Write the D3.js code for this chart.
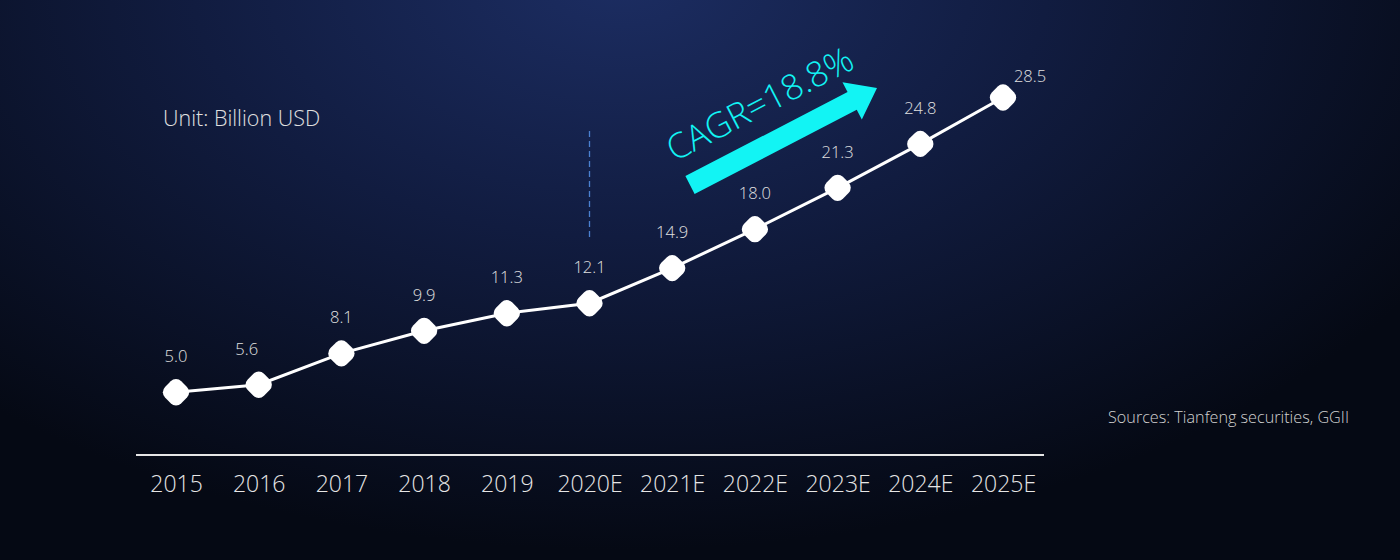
<!DOCTYPE html>
<html><head><meta charset="utf-8">
<script src="https://cdn.jsdelivr.net/npm/d3@7"></script>
<style>html,body{margin:0;padding:0;background:#050914;overflow:hidden}</style>
</head><body><svg id="c" width="1400" height="560"></svg>
<script>
const years = ["2015","2016","2017","2018","2019","2020E","2021E","2022E","2023E","2024E","2025E"];
const values = [5.0,5.6,8.1,9.9,11.3,12.1,14.9,18.0,21.3,24.8,28.5];
const unitLabel = "Unit: Billion USD";
const sourceLabel = "Sources: Tianfeng securities, GGII";
const cagrLabel = "CAGR=18.8%";
const forecastStart = "2020E";

const svg = d3.select("#c");
const W = 1400, H = 560;
const font = "'Open Sans', 'Noto Sans', sans-serif";

const defs = svg.append("defs");
const rg = defs.append("radialGradient").attr("id","bg").attr("gradientUnits","userSpaceOnUse")
  .attr("cx",620).attr("cy",-20).attr("r",760).attr("gradientTransform","translate(620,-20) scale(1.25,0.75) translate(-620,20)");
rg.append("stop").attr("offset","0").attr("stop-color","#1c2d62");
rg.append("stop").attr("offset","0.45").attr("stop-color","#111c40");
rg.append("stop").attr("offset","1").attr("stop-color","#050914");
svg.append("rect").attr("width",W).attr("height",H).attr("fill","url(#bg)");

const x = d3.scalePoint().domain(years).range([176,1003]);
const y = d3.scaleLinear().domain([0,28.5]).range([455,97.5]);

// axis baseline
const axis = d3.axisBottom(x).tickSize(0).tickPadding(21);
const gA = svg.append("g").attr("transform","translate(0,455)").call(axis);
gA.select(".domain").remove();
gA.append("line").attr("x1",136).attr("x2",1044).attr("y1",0).attr("y2",0).attr("stroke","#e6e6e6").attr("stroke-width",2);
gA.selectAll("text").attr("font-family",font).attr("font-size",23).attr("font-weight",300).attr("fill","#e6e6e6");

// dashed forecast divider
svg.append("line").attr("x1",x(forecastStart)).attr("x2",x(forecastStart)).attr("y1",131).attr("y2",238)
  .attr("stroke","#4a80d0").attr("stroke-width",1.3).attr("stroke-dasharray","6,4");

// line
const line = d3.line().x((d,i)=>x(years[i])).y(d=>y(d));
svg.append("path").datum(values).attr("d",line).attr("fill","none").attr("stroke","#ffffff").attr("stroke-width",3);

// markers
svg.selectAll("rect.m").data(values).enter().append("rect").attr("class","m")
  .attr("x",-11.5).attr("y",-11.5).attr("width",23).attr("height",23).attr("rx",7.5).attr("ry",7.5)
  .attr("fill","#ffffff")
  .attr("transform",(d,i)=>`translate(${x(years[i])},${y(d)}) rotate(45)`);

// value labels
const last = values.length-1;
svg.selectAll("text.v").data(values).enter().append("text").attr("class","v")
  .attr("x",(d,i)=> x(years[i]) + (i===last?27:(i===1?-12:0)))
  .attr("y",(d,i)=> y(d) - (i===last?16:30))
  .attr("text-anchor","middle").attr("font-family",font).attr("font-size",16.5).attr("font-weight",300)
  .attr("fill","#e0e0e0").text(d=>d.toFixed(1));

// unit and sources
svg.append("text").attr("x",163).attr("y",126).attr("font-family",font).attr("font-size",21.5).attr("font-weight",300)
  .attr("fill","#e0e0e0").text(unitLabel);
svg.append("text").attr("x",1108).attr("y",423).attr("font-family",font).attr("font-size",16.2).attr("font-weight",300)
  .attr("fill","#d2d2d2").text(sourceLabel);

// CAGR arrow
const ang = Math.atan2(88-185, 877-690)*180/Math.PI;
const len = Math.hypot(877-690, 88-185);
const ga = svg.append("g").attr("transform",`translate(690,185) rotate(${ang})`);
ga.append("path").attr("fill","#12f4f4")
  .attr("d",`M0,-10 L${len-28},-10 L${len-28},-21 L${len},0 L${len-28},21 L${len-28},10 L0,10 Z`);
const gt = svg.append("g").attr("transform",`translate(760,104) rotate(${ang})`);
gt.append("text").attr("text-anchor","middle").attr("y",12).attr("font-family",font).attr("font-size",35).attr("font-weight",300)
  .attr("fill","#12f4f4").text(cagrLabel);
</script></body></html>
